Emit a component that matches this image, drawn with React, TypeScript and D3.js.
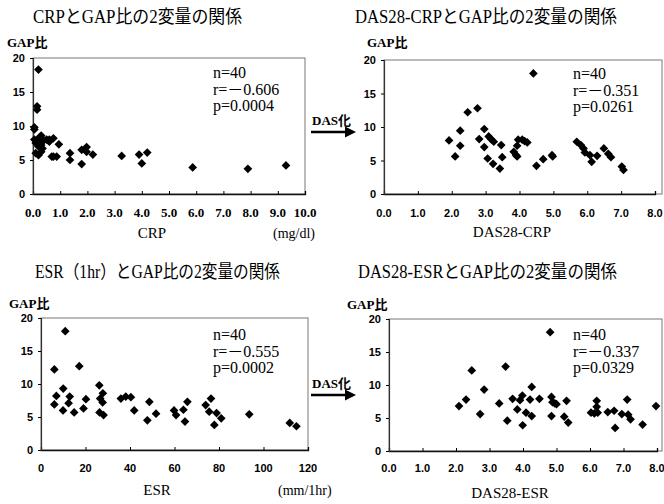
import React, { useEffect, useRef } from 'react';
import * as d3 from 'd3';

// tick values
const gapTicks = [0, 5, 10, 15, 20];
const crpTicks = [0, 1, 2, 3, 4, 5, 6, 7, 8, 9, 10];
const dasTicks = [0, 1, 2, 3, 4, 5, 6, 7, 8];
const esrTicks = [0, 20, 40, 60, 80, 100, 120];

// CRP vs GAP ratio
const crpX = [0.2, 0.15, 0.15, 0.05, 0.05, 0.05, 0.15, 0.3, 0.2, 0.3, 0.2, 0.3, 0.35, 0.5, 0.6, 0.75, 0.6, 0.95, 0.75, 0.87,
  0.69, 1.36, 1.36, 1.79, 1.79, 1.97, 1.97, 2.2, 3.26, 3.9, 4.0, 4.2, 5.87, 7.9, 9.3, 0.1, 0.25, 0.4, 0.1, 0.2];
const crpY = [18.3, 12.9, 12.4, 9.8, 9.5, 8.0, 8.0, 8.6, 7.7, 7.2, 5.7, 6.2, 6.7, 8.0, 8.0, 8.2, 7.7, 7.3, 5.5, 5.5,
  5.5, 6.0, 5.0, 4.4, 6.5, 6.9, 6.2, 5.8, 5.6, 5.8, 4.5, 6.1, 3.9, 3.7, 4.2, 7.5, 8.3, 7.9, 6.0, 7.0];

// DAS28-CRP vs GAP ratio
const dasCrpX = [4.41, 2.47, 2.76, 2.25, 2.96, 1.92, 2.25, 2.1, 2.81, 2.96, 3.09, 3.16, 3.24, 3.06, 3.22, 3.42, 3.46, 3.49, 3.83, 3.9,
  3.93, 3.96, 3.93, 4.08, 4.15, 4.23, 4.5, 4.7, 4.96, 4.98, 5.69, 5.81, 5.89, 5.93, 6.08, 6.13, 6.29, 6.49, 6.62, 6.7, 7.02, 7.07];
const dasCrpY = [18.0, 12.2, 12.8, 9.45, 9.7, 8.0, 7.2, 5.6, 8.2, 7.0, 8.6, 8.2, 7.8, 5.3, 4.5, 3.8, 7.3, 5.5, 6.3, 5.8,
  5.6, 8.1, 7.2, 8.1, 7.9, 7.7, 4.2, 5.2, 5.8, 5.6, 7.8, 7.3, 6.8, 6.2, 5.8, 4.8, 5.7, 6.8, 6.0, 5.5, 4.1, 3.6];

// ESR vs GAP ratio
const esrX = [10.9, 6.0, 17.2, 10.0, 26.2, 6.9, 6.0, 9.9, 12.9, 12.4, 14.9, 19.1, 20.2, 26.6, 27.8, 27.7, 26.3, 28.1, 35.9, 38.1,
  40.4, 41.9, 47.8, 48.7, 51.7, 59.8, 60.7, 64.0, 64.7, 65.8, 74.0, 76.4, 75.6, 77.9, 78.9, 81.0, 93.6, 111.8, 114.8];
const esrY = [18.0, 12.2, 12.7, 9.3, 9.8, 8.2, 6.9, 6.0, 8.1, 7.1, 5.7, 6.3, 7.7, 7.8, 8.6, 7.2, 5.7, 5.3, 7.8, 8.1,
  8.0, 6.0, 4.5, 7.3, 5.5, 6.0, 5.3, 6.1, 4.3, 7.3, 6.8, 7.8, 5.8, 3.8, 5.6, 4.8, 5.4, 4.1, 3.6];

// DAS28-ESR vs GAP ratio
const dasEsrX = [4.81, 2.47, 3.48, 2.09, 2.3, 2.84, 2.72, 3.29, 3.53, 3.69, 3.83, 3.91, 3.98, 3.99, 4.09, 4.21, 4.26, 4.26, 4.49, 4.85,
  4.88, 4.95, 5.0, 4.85, 5.23, 5.3, 5.35, 6.03, 6.13, 6.2, 6.2, 6.23, 6.53, 6.72, 6.75, 6.95, 7.11, 7.14, 7.21, 7.57, 7.97];
const dasEsrY = [18.0, 12.2, 12.8, 6.8, 7.8, 9.3, 5.6, 7.2, 4.6, 7.9, 6.3, 7.7, 8.4, 3.9, 5.8, 7.8, 9.7, 5.3, 7.9, 8.2,
  7.4, 7.2, 7.1, 5.3, 5.2, 7.6, 4.3, 5.8, 5.7, 7.6, 6.7, 5.8, 5.9, 6.1, 3.5, 5.6, 7.8, 5.5, 4.8, 4.0, 6.8];

const statsCrp = ['n=40', 'r=－0.606', 'p=0.0004'];
const statsDasCrp = ['n=40', 'r=－0.351', 'p=0.0261'];
const statsEsr = ['n=40', 'r=－0.555', 'p=0.0002'];
const statsDasEsr = ['n=40', 'r=－0.337', 'p=0.0329'];

const serif = "'Liberation Serif','Times New Roman','Noto Sans CJK JP',serif";
const sans = "'Liberation Sans',Arial,'Noto Sans CJK JP',sans-serif";

const panels = [
  {
    title: 'CRPとGAP比の2変量の関係', titleX: 33, titleLen: 209, titleY: 23,
    xs: crpX, ys: crpY, ticks: crpTicks, xMax: 10, fmt: '.1f', tickFont: serif, tickSize: 13,
    left: 33, xEnd: 305, boxRight: 305, top: 58, bottom: 194,
    xLabel: 'CRP', xLabelX: 152, unit: '(mg/dl)', unitX: 273, labelY: 238, tickY: 217,
    gapX: 7, gapY: 47, statsX: 213, statsY: 78, stats: statsCrp,
  },
  {
    title: 'DAS28-CRPとGAP比の2変量の関係', titleX: 355, titleLen: 262, titleY: 23,
    xs: dasCrpX, ys: dasCrpY, ticks: dasTicks, xMax: 8, fmt: '.1f', tickFont: sans, tickSize: 11,
    left: 384, xEnd: 655, boxRight: 662, top: 60, bottom: 194,
    xLabel: 'DAS28-CRP', xLabelX: 512, unit: '', unitX: 0, labelY: 237, tickY: 217,
    gapX: 367, gapY: 47, statsX: 573, statsY: 79, stats: statsDasCrp,
  },
  {
    title: 'ESR（1hr）とGAP比の2変量の関係', titleX: 35, titleLen: 245, titleY: 278,
    xs: esrX, ys: esrY, ticks: esrTicks, xMax: 120, fmt: 'd', tickFont: sans, tickSize: 11,
    left: 41, xEnd: 308, boxRight: 308, top: 318, bottom: 450,
    xLabel: 'ESR', xLabelX: 157, unit: '(mm/1hr)', unitX: 278, labelY: 495, tickY: 472,
    gapX: 9, gapY: 308, statsX: 213, statsY: 340, stats: statsEsr,
  },
  {
    title: 'DAS28-ESRとGAP比の2変量の関係', titleX: 358, titleLen: 259, titleY: 278,
    xs: dasEsrX, ys: dasEsrY, ticks: dasTicks, xMax: 8, fmt: '.1f', tickFont: sans, tickSize: 11,
    left: 389, xEnd: 657, boxRight: 662, top: 319, bottom: 451,
    xLabel: 'DAS28-ESR', xLabelX: 510, unit: '', unitX: 0, labelY: 498, tickY: 472,
    gapX: 347, gapY: 309, statsX: 573, statsY: 340, stats: statsDasEsr,
  },
];

const arrows = [{ y: 125 }, { y: 388 }];

export default function App() {
  const ref = useRef<SVGSVGElement>(null);

  useEffect(() => {
    const svg = d3.select(ref.current);
    svg.selectAll('*').remove();

    const diamond = d3.symbol().type(d3.symbolSquare).size(38);

    panels.forEach((p) => {
      const x = d3.scaleLinear().domain([0, p.xMax]).range([p.left, p.xEnd]);
      const y = d3.scaleLinear().domain([0, 20]).range([p.bottom, p.top]);
      const g = svg.append('g');

      g.append('text').attr('x', p.titleX).attr('y', p.titleY)
        .attr('font-family', serif).attr('font-size', 18)
        .attr('textLength', p.titleLen).attr('lengthAdjust', 'spacingAndGlyphs')
        .text(p.title);

      g.append('text').attr('x', p.gapX).attr('y', p.gapY)
        .attr('font-family', serif).attr('font-size', 13).attr('font-weight', 'bold')
        .text('GAP比');

      // plot box
      g.append('rect').attr('x', p.left).attr('y', p.top)
        .attr('width', p.boxRight - p.left).attr('height', p.bottom - p.top)
        .attr('fill', 'none').attr('stroke', '#777').attr('stroke-width', 1);

      const xAxis = d3.axisBottom(x).tickValues(p.ticks).tickSize(-3).tickFormat(() => '');
      g.append('g').attr('transform', `translate(0,${p.bottom})`).call(xAxis)
        .call((s) => s.select('.domain').attr('stroke', '#111').attr('stroke-width', 1.3));
      const yAxis = d3.axisLeft(y).tickValues(gapTicks).tickSize(3).tickFormat(() => '');
      g.append('g').attr('transform', `translate(${p.left},0)`).call(yAxis)
        .call((s) => s.select('.domain').attr('stroke', '#333').attr('stroke-width', 1.2));

      g.selectAll('.xt').data(p.ticks).enter().append('text')
        .attr('x', (d) => x(d)).attr('y', p.tickY).attr('text-anchor', 'middle')
        .attr('font-family', p.tickFont).attr('font-size', p.tickSize).attr('font-weight', 'bold')
        .text((d) => d3.format(p.fmt)(d));

      g.selectAll('.yt').data(gapTicks).enter().append('text')
        .attr('x', p.left - 8).attr('y', (d) => y(d) + 4).attr('text-anchor', 'end')
        .attr('font-family', sans).attr('font-size', 11).attr('font-weight', 'bold')
        .text((d) => d);

      g.append('text').attr('x', p.xLabelX).attr('y', p.labelY).attr('text-anchor', 'middle')
        .attr('font-family', serif).attr('font-size', 15).text(p.xLabel);
      if (p.unit) {
        g.append('text').attr('x', p.unitX).attr('y', p.labelY)
          .attr('font-family', serif).attr('font-size', 14).text(p.unit);
      }

      g.selectAll('.st').data(p.stats).enter().append('text')
        .attr('x', p.statsX).attr('y', (d, i) => p.statsY + i * 16.5)
        .attr('font-family', serif).attr('font-size', 16).text((d) => d);

      g.selectAll('.pt').data(p.xs).enter().append('path')
        .attr('d', diamond)
        .attr('transform', (d, i) => `translate(${x(d)},${y(p.ys[i])}) rotate(45)`)
        .attr('fill', '#000');
    });

    // "DAS化" arrows between panels
    const defs = svg.append('defs');
    defs.append('marker').attr('id', 'ah').attr('viewBox', '0 0 10 10')
      .attr('refX', 2).attr('refY', 5).attr('markerWidth', 4.5).attr('markerHeight', 4.5)
      .attr('orient', 'auto')
      .append('path').attr('d', 'M0,0L10,5L0,10z').attr('fill', '#000');

    arrows.forEach((a) => {
      svg.append('text').attr('x', 312).attr('y', a.y)
        .attr('font-family', serif).attr('font-size', 13).attr('font-weight', 'bold')
        .text('DAS化');
      svg.append('line').attr('x1', 311).attr('x2', 347)
        .attr('y1', a.y + 7).attr('y2', a.y + 7)
        .attr('stroke', '#000').attr('stroke-width', 2.5).attr('marker-end', 'url(#ah)');
    });
  }, []);

  return (
    <svg ref={ref} width={664} height={504}
      style={{ position: 'absolute', left: 0, top: 0, background: '#fff' }} />
  );
}
